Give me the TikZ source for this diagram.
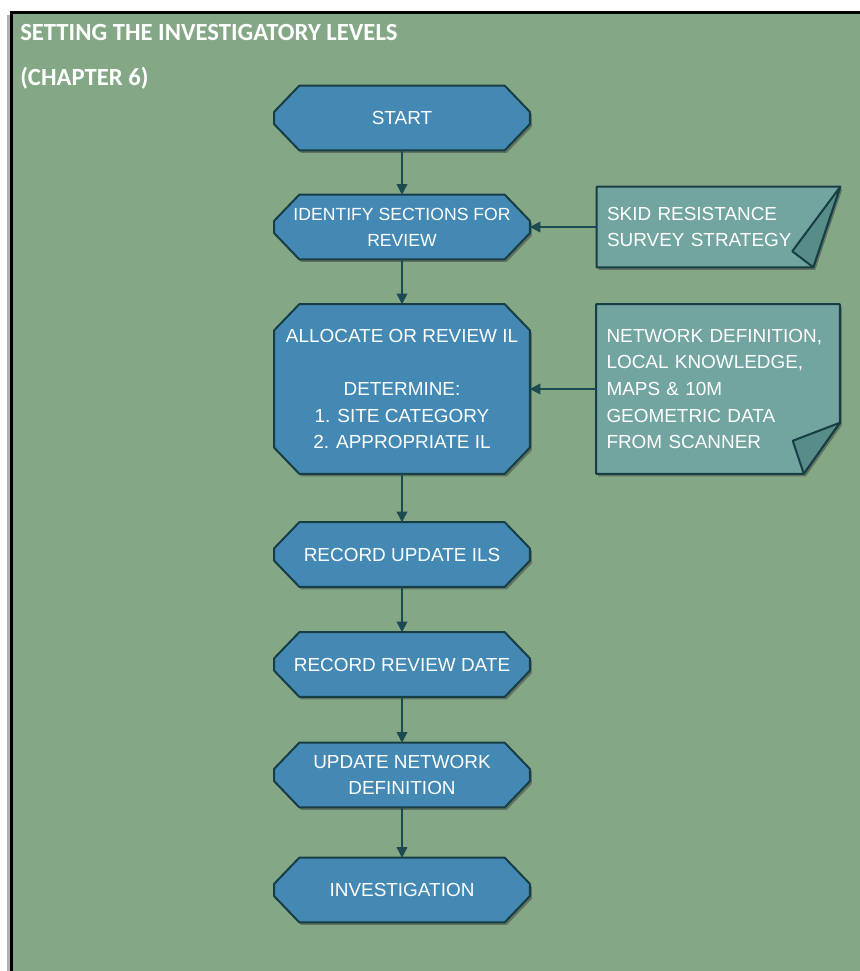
\documentclass[tikz,border=0pt]{standalone}
\usepackage{fontspec}
\setmainfont{Liberation Sans}
\newfontfamily\titlefont{Carlito}
\usetikzlibrary{positioning, arrows.meta, calc, shadows}

\definecolor{panelgreen}{HTML}{84A886}
\definecolor{stepblue}{HTML}{4389B4}
\definecolor{notegreen}{HTML}{72A59F}
\definecolor{notefold}{HTML}{578C89}
\definecolor{edgedark}{HTML}{173D45}
\definecolor{arrowdark}{HTML}{1B4A50}

\pgfdeclarelayer{backdrop}
\pgfdeclarelayer{background}
\pgfsetlayers{backdrop,background,main}

% chamfered outline round a step node
\newcommand{\stepoutline}[1]{%
    \draw[stepfill]
        ($(#1.north west)+(25,0)$) -- ($(#1.north east)+(-25,0)$) --
        ($(#1.north east)+(0,26)$) -- ($(#1.south east)+(0,-26)$) --
        ($(#1.south east)+(-25,0)$) -- ($(#1.south west)+(25,0)$) --
        ($(#1.south west)+(0,-26)$) -- ($(#1.north west)+(0,26)$) -- cycle;}

\begin{document}
\begin{tikzpicture}[
    x=0.75pt, y=-0.75pt,
    stepbox/.style={
        minimum width=191.25pt,
        minimum height=48pt,
        inner sep=0pt,
        align=center,
        text=white,
        font=\fontsize{14.2}{20}\selectfont
    },
    notebox/.style={
        minimum width=182.25pt,
        inner xsep=7.5pt,
        inner ysep=0pt,
        text width=167.25pt,
        align=left,
        text=white,
        font=\fontsize{14.2}{20}\selectfont
    },
    boxshadow/.style={
        drop shadow={shadow xshift=1.5pt, shadow yshift=-2pt,
                     opacity=0.45, fill=black!80}
    },
    stepfill/.style={
        boxshadow,
        draw=edgedark,
        fill=stepblue,
        line width=1.5pt,
        line join=round
    },
    notefill/.style={
        boxshadow,
        draw=edgedark,
        fill=notegreen,
        line width=1.5pt,
        line join=round
    },
    foldfill/.style={
        draw=edgedark,
        fill=notefold,
        line width=1.5pt,
        line join=round
    },
    flowarrow/.style={
        -{Triangle[length=8pt, width=8pt]},
        line width=1.1pt,
        draw=arrowdark
    },
    titletext/.style={
        font=\titlefont\bfseries\fontsize{18.5}{22}\selectfont,
        text=white,
        anchor=base west,
        inner sep=0pt
    }
]

% --- Frame -----------------------------------------------------------------
\path[use as bounding box] (0,0) rectangle (860,971);
\begin{pgfonlayer}{backdrop}
    \fill[white] (0,0) rectangle (860,971);
    \fill[black!30] (7,15) rectangle (10,971);
    \draw[black, line width=2.25pt, fill=panelgreen] (11,12) rectangle (890,1000);
\end{pgfonlayer}

\node[titletext] (title) at (20,40) {SETTING THE INVESTIGATORY LEVELS};
\node[titletext] (chapter) at (20,85) {(CHAPTER 6)};

% --- Steps -----------------------------------------------------------------
\node[stepbox] (start)     at (402,118)   {START};
\node[stepbox, font=\fontsize{13.2}{19.5}\selectfont] (identify) at (402,227)
    {IDENTIFY SECTIONS FOR\\REVIEW};
\node[stepbox, minimum height=126.75pt] (allocate) at (402,389)
    {ALLOCATE OR REVIEW IL\\[20pt]DETERMINE:\\1. SITE CATEGORY\\2. APPROPRIATE IL};
\node[stepbox] (recupdate) at (402,554.5) {RECORD UPDATE ILS};
\node[stepbox] (recdate)   at (402,664.5) {RECORD REVIEW DATE};
\node[stepbox] (updnet)    at (402,775)   {UPDATE NETWORK\\DEFINITION};
\node[stepbox] (investig)  at (402,890)   {INVESTIGATION};

% --- Notes -----------------------------------------------------------------
\node[notebox, minimum height=60pt] (skid) at (718.5,227)
    {SKID RESISTANCE\\SURVEY STRATEGY};
\node[notebox, minimum height=126.75pt] (netdef) at (718,389)
    {NETWORK DEFINITION,\\LOCAL KNOWLEDGE,\\MAPS \& 10M\\GEOMETRIC DATA\\FROM SCANNER};

\begin{pgfonlayer}{background}
    \foreach \n in {start, identify, allocate, recupdate, recdate, updnet, investig}
        {\stepoutline{\n}}
    % folded notes
    \draw[notefill] (skid.north west) -- (skid.north east) --
        ($(skid.south east)+(-27,0)$) -- (skid.south west) -- cycle;
    \draw[foldfill] (skid.north east) -- ($(skid.south east)+(-48,-16)$) --
        ($(skid.south east)+(-27,0)$) -- cycle;
    \draw[notefill] (netdef.north west) -- (netdef.north east) --
        ($(netdef.south east)+(0,-51)$) -- ($(netdef.south east)+(-36,0)$) --
        (netdef.south west) -- cycle;
    \draw[foldfill] ($(netdef.south east)+(0,-51)$) --
        ($(netdef.south east)+(-47,-33)$) --
        ($(netdef.south east)+(-36,0)$) -- cycle;
\end{pgfonlayer}

% --- Connectors ------------------------------------------------------------
\foreach \a/\b in {start/identify, identify/allocate, allocate/recupdate,
                   recupdate/recdate, recdate/updnet, updnet/investig}
    \draw[flowarrow] (\a.south) -- (\b.north);

\draw[flowarrow] (skid.west) -- (identify.east);
\draw[flowarrow] (netdef.west) -- (allocate.east);

\end{tikzpicture}
\end{document}
